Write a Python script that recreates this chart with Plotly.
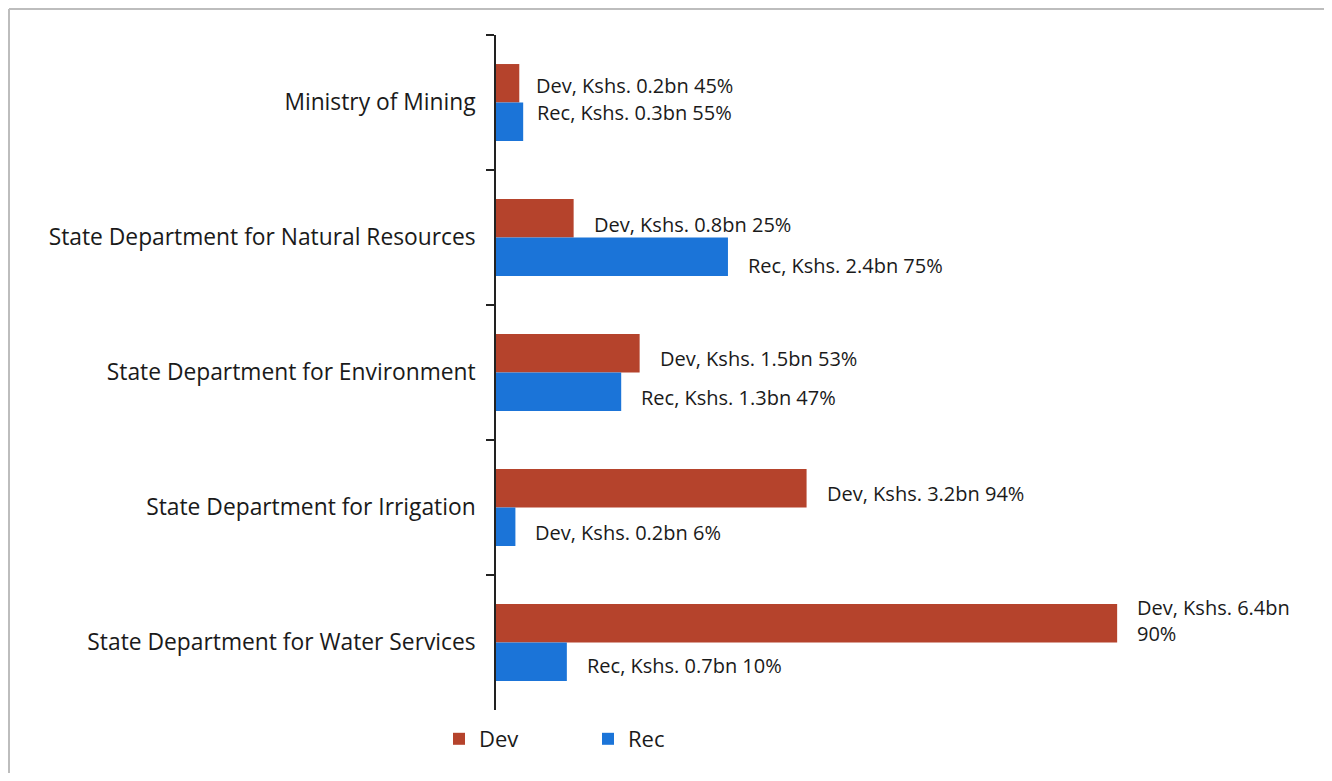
import plotly.graph_objects as go

categories = [
    "Ministry of Mining",
    "State Department for Natural Resources",
    "State Department for Environment",
    "State Department for Irrigation",
    "State Department for Water Services",
]
dev_values = [0.24, 0.80, 1.48, 3.20, 6.40]
rec_values = [0.28, 2.39, 1.29, 0.20, 0.73]
dev_labels = [
    "Dev, Kshs. 0.2bn 45%",
    "Dev, Kshs. 0.8bn 25%",
    "Dev, Kshs. 1.5bn 53%",
    "Dev, Kshs. 3.2bn 94%",
    "Dev, Kshs. 6.4bn<br>90%",
]
rec_labels = [
    "Rec, Kshs. 0.3bn 55%",
    "Rec, Kshs. 2.4bn 75%",
    "Rec, Kshs. 1.3bn 47%",
    "Dev, Kshs. 0.2bn 6%",
    "Rec, Kshs. 0.7bn 10%",
]

DEV_COLOR = "#B5432C"
REC_COLOR = "#1B74D8"
FONT = "Open Sans"
TXT = "#1a1a1a"

fig = go.Figure()
fig.add_trace(go.Bar(y=categories, x=dev_values, orientation="h", name="Dev",
                     marker=dict(color=DEV_COLOR, line=dict(width=0))))
fig.add_trace(go.Bar(y=categories, x=rec_values, orientation="h", name="Rec",
                     marker=dict(color=REC_COLOR, line=dict(width=0))))

# label vertical offsets (px) relative to category centre
dev_shift = [17, 13, 14, 14, 22]
rec_shift = [-10, -28, -25, -25, -23]
x_shift = [[15, 12], [18, 18], [18, 18], [18, 18], [18, 18]]

annotations = []
for i, cat in enumerate(categories):
    annotations.append(dict(x=dev_values[i], y=cat, xref="x", yref="y", text=dev_labels[i],
                            showarrow=False, xanchor="left", yanchor="middle", align="left",
                            xshift=x_shift[i][0], yshift=dev_shift[i],
                            font=dict(family=FONT, size=20, color=TXT)))
    annotations.append(dict(x=rec_values[i], y=cat, xref="x", yref="y", text=rec_labels[i],
                            showarrow=False, xanchor="left", yanchor="middle", align="left",
                            xshift=x_shift[i][1], yshift=rec_shift[i],
                            font=dict(family=FONT, size=20, color=TXT)))

# figure geometry (figure is drawn at an 8px page offset)
L, R, T, B = 488, 12, 27, 63
W, H = 1324, 765
PW, PH = W - L - R, H - T - B

def px(xf):
    return (xf - L) / PW

def py(yf):
    return (H - B - yf) / PH

border = dict(color="#bdbdbd", width=2)

fig.update_layout(
    width=W, height=H,
    margin=dict(l=L, r=R, t=T, b=B),
    paper_bgcolor="white", plot_bgcolor="white",
    barmode="group", bargap=0.43, bargroupgap=0,
    font=dict(family=FONT, size=20, color=TXT),
    xaxis=dict(range=[0, 8.49], visible=False, fixedrange=True),
    yaxis=dict(autorange="reversed", showline=True, linecolor="#222", linewidth=1.5,
               ticks="outside", tickson="boundaries", ticklen=8, tickcolor="#222",
               tickwidth=1.5, showgrid=False, ticklabelstandoff=14,
               tickfont=dict(family=FONT, size=22.8, color=TXT)),
    legend=dict(orientation="h", x=px(431), xanchor="left", y=py(710), yanchor="top",
                entrywidth=104, font=dict(family=FONT, size=22, color=TXT)),
    annotations=annotations,
    shapes=[
        dict(type="line", xref="paper", yref="paper", x0=px(1), x1=px(1319),
             y0=py(1), y1=py(1), line=border),
        dict(type="line", xref="paper", yref="paper", x0=px(1), x1=px(1),
             y0=py(1), y1=py(H), line=border),
        dict(type="line", xref="paper", yref="paper", x0=px(1319), x1=px(1319),
             y0=py(1), y1=py(H), line=border),
    ],
)

fig.write_html("out.html")
